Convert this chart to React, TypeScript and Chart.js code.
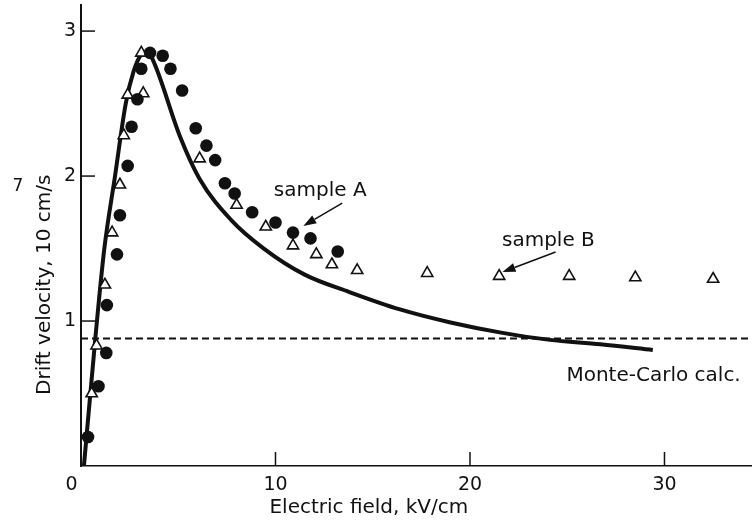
import React, { useEffect, useRef } from "react";
import { Chart, registerables } from "chart.js";

Chart.register(...registerables);

// ---- axes ----
const xTickValues = [0, 10, 20, 30];
const yTickValues = [0, 1, 2, 3];
const xMin = 0;
const xMax = 34.5;
const yMin = 0;
const yMax = 3.18;

// ---- Monte-Carlo calculation (solid curve) ----
const mcX = [0.15, 0.75, 1.2, 1.75, 2.3, 2.7, 3.1, 3.4, 3.7, 5.1, 6.1, 7.7, 9.4, 11.5, 13.8, 16.4, 19.0, 21.6, 24.1, 26.7, 29.4];
const mcY = [0, 0.9, 1.5, 2.0, 2.5, 2.72, 2.84, 2.86, 2.8, 2.27, 1.98, 1.7, 1.5, 1.32, 1.2, 1.08, 0.99, 0.92, 0.87, 0.84, 0.8];

// ---- sample A (filled circles) ----
const sampleAX = [0.36, 0.9, 1.3, 1.33, 1.85, 2.0, 2.4, 2.6, 2.9, 3.1, 3.55, 4.2, 4.6, 5.2, 5.9, 6.45, 6.9, 7.4, 7.9, 8.8, 10.0, 10.9, 11.8, 13.2];
const sampleAY = [0.2, 0.55, 0.78, 1.11, 1.46, 1.73, 2.07, 2.34, 2.53, 2.74, 2.85, 2.83, 2.74, 2.59, 2.33, 2.21, 2.11, 1.95, 1.88, 1.75, 1.68, 1.61, 1.57, 1.48];

// ---- sample B (open triangles) ----
const sampleBX = [0.55, 0.8, 1.23, 1.6, 2.0, 2.2, 2.4, 3.2, 3.1, 6.1, 8.0, 9.5, 10.9, 12.1, 12.9, 14.2, 17.8, 21.5, 25.1, 28.5, 32.5];
const sampleBY = [0.5, 0.83, 1.25, 1.61, 1.94, 2.28, 2.56, 2.57, 2.85, 2.12, 1.8, 1.65, 1.52, 1.46, 1.39, 1.35, 1.33, 1.31, 1.31, 1.3, 1.29];

// ---- dashed reference level ----
const dashedLevel = 0.88;

// ---- annotations (data coordinates) ----
const labelA = { text: "sample A", x: 12.3, y: 1.86 };
const arrowA = { fromX: 13.43, fromY: 1.814, toX: 11.43, toY: 1.655 };
const labelB = { text: "sample B", x: 24.03, y: 1.52 };
const arrowB = { fromX: 24.4, fromY: 1.476, toX: 21.67, toY: 1.338 };
const labelMC = { text: "Monte-Carlo calc.", x: 29.44, y: 0.586 };

const xTitle = "Electric field, kV/cm";
const yTitle = "Drift velocity, 10 cm/s";
const yTitleSup = "7";

const FONT = "'DejaVu Sans', 'Liberation Sans', Arial, sans-serif";
const INK = "#111";

const toPts = (xs: number[], ys: number[]) => xs.map((x, i) => ({ x, y: ys[i] }));

export default function App() {
  const ref = useRef<HTMLCanvasElement>(null);

  useEffect(() => {
    document.body.style.margin = "0";
    const canvas = ref.current;
    if (!canvas) return;

    const annot = {
      id: "annot",
      afterDraw(chart: any) {
        const c = chart.ctx as CanvasRenderingContext2D;
        const xs = chart.scales.x;
        const ys = chart.scales.y;
        const { left, bottom } = chart.chartArea;
        c.save();
        c.strokeStyle = INK;
        c.fillStyle = INK;

        // inward tick marks
        c.lineWidth = 1.5;
        for (const v of yTickValues) {
          if (v === 0) continue;
          const p = ys.getPixelForValue(v);
          c.beginPath();
          c.moveTo(left, p);
          c.lineTo(left + 14, p);
          c.stroke();
        }
        for (const v of xTickValues) {
          if (v === 0) continue;
          const p = xs.getPixelForValue(v);
          c.beginPath();
          c.moveTo(p, bottom);
          c.lineTo(p, bottom - 14);
          c.stroke();
        }

        // origin label
        c.font = `19px ${FONT}`;
        c.textAlign = "center";
        c.textBaseline = "alphabetic";
        c.fillText("0", left - 9.5, bottom + 24);

        // arrows
        const arrow = (a: any) => {
          const x1 = xs.getPixelForValue(a.fromX);
          const y1 = ys.getPixelForValue(a.fromY);
          const x2 = xs.getPixelForValue(a.toX);
          const y2 = ys.getPixelForValue(a.toY);
          const ang = Math.atan2(y2 - y1, x2 - x1);
          const hl = 13;
          const hw = 4.5;
          const bx = x2 - hl * Math.cos(ang);
          const by = y2 - hl * Math.sin(ang);
          c.lineWidth = 1.5;
          c.beginPath();
          c.moveTo(x1, y1);
          c.lineTo(bx, by);
          c.stroke();
          c.beginPath();
          c.moveTo(x2, y2);
          c.lineTo(bx + hw * Math.sin(ang), by - hw * Math.cos(ang));
          c.lineTo(bx - hw * Math.sin(ang), by + hw * Math.cos(ang));
          c.closePath();
          c.fill();
        };
        arrow(arrowA);
        arrow(arrowB);

        // labels
        c.font = `20px ${FONT}`;
        c.textAlign = "center";
        for (const l of [labelA, labelB, labelMC]) {
          c.fillText(l.text, xs.getPixelForValue(l.x), ys.getPixelForValue(l.y));
        }

        // x axis title
        c.font = `20px ${FONT}`;
        c.fillText(xTitle, xs.getPixelForValue(14.8), bottom + 47);

        // y axis title (rotated) with upright superscript
        c.save();
        c.translate(left - 31, ys.getPixelForValue(1.25));
        c.rotate(-Math.PI / 2);
        c.font = `20px ${FONT}`;
        c.textAlign = "center";
        c.fillText(yTitle, 0, 0);
        c.restore();
        c.font = `17px ${FONT}`;
        c.textAlign = "center";
        c.fillText(yTitleSup, left - 63, ys.getPixelForValue(1.9));

        c.restore();
      },
    };

    const chart = new Chart(canvas, {
      type: "scatter",
      data: {
        datasets: [
          {
            label: "sample A",
            data: toPts(sampleAX, sampleAY),
            pointStyle: "circle",
            pointRadius: 6.3,
            pointBackgroundColor: INK,
            pointBorderColor: INK,
            pointBorderWidth: 0,
            order: 1,
          },
          {
            label: "sample B",
            data: toPts(sampleBX, sampleBY),
            pointStyle: "triangle",
            pointRadius: 6.5,
            pointBackgroundColor: "#fff",
            pointBorderColor: INK,
            pointBorderWidth: 1.6,
            order: 2,
          },
          {
            label: "Monte-Carlo calc.",
            data: toPts(mcX, mcY),
            showLine: true,
            borderColor: INK,
            borderWidth: 4,
            pointRadius: 0,
            cubicInterpolationMode: "monotone",
            order: 3,
          },
          {
            label: "level",
            data: [
              { x: xMin, y: dashedLevel },
              { x: xMax, y: dashedLevel },
            ],
            showLine: true,
            borderColor: INK,
            borderWidth: 2,
            borderDash: [7, 4],
            pointRadius: 0,
            order: 4,
          },
        ] as any,
      },
      options: {
        animation: false,
        responsive: false,
        devicePixelRatio: 1,
        layout: { autoPadding: false, padding: { top: 5, right: 0, left: 0, bottom: 0 } },
        plugins: {
          legend: { display: false },
          tooltip: { enabled: false },
        },
        scales: {
          x: {
            type: "linear",
            min: xMin,
            max: xMax,
            afterFit: (s: any) => {
              s.height = 55;
              s.paddingLeft = 0;
              s.paddingRight = 0;
            },
            afterBuildTicks: (s: any) => {
              s.ticks = xTickValues.map((v) => ({ value: v }));
            },
            grid: { display: false, drawTicks: false },
            border: { display: true, color: INK, width: 1.5 },
            ticks: {
              padding: 8,
              color: INK,
              font: { family: FONT, size: 19 },
              maxRotation: 0,
              autoSkip: false,
              callback: (v: any) => (Number(v) === 0 ? "" : String(v)),
            },
          },
          y: {
            type: "linear",
            min: yMin,
            max: yMax,
            afterFit: (s: any) => {
              s.width = 81;
              s.paddingTop = 0;
              s.paddingBottom = 0;
            },
            afterBuildTicks: (s: any) => {
              s.ticks = yTickValues.map((v) => ({ value: v }));
            },
            grid: { display: false, drawTicks: false },
            border: { display: true, color: INK, width: 2 },
            ticks: {
              padding: 5,
              color: INK,
              font: { family: FONT, size: 19 },
              autoSkip: false,
              callback: (v: any) => (Number(v) === 0 ? "" : String(v)),
            },
          },
        },
      } as any,
      plugins: [annot],
    });

    return () => chart.destroy();
  }, []);

  return <canvas ref={ref} width={752} height={521} style={{ display: "block" }} />;
}
